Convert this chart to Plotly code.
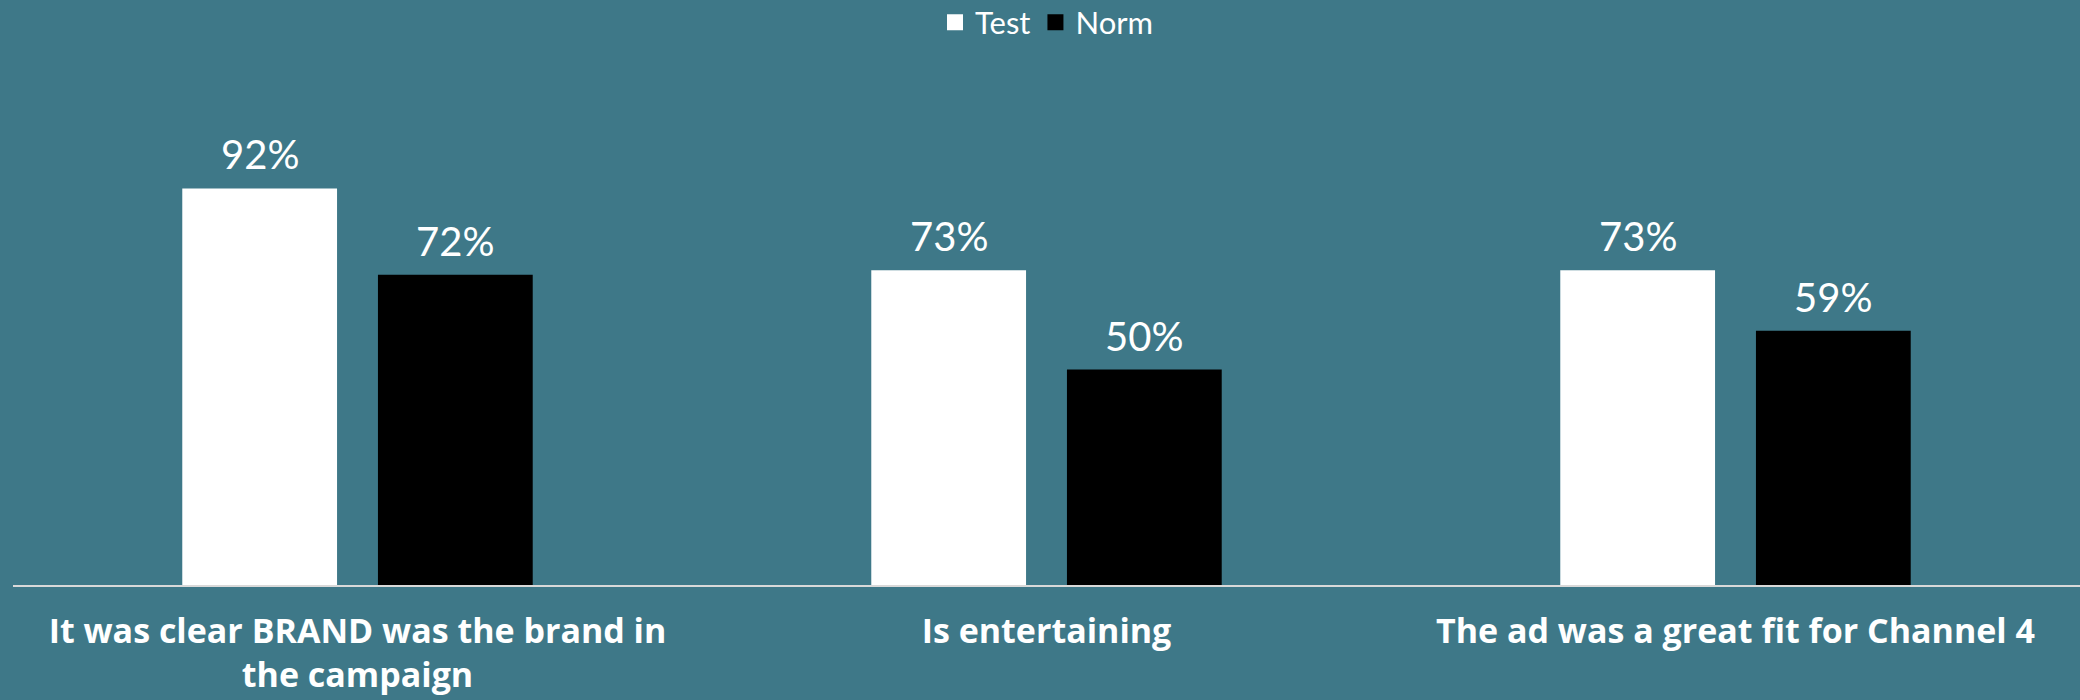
import plotly.graph_objects as go

categories = ["It was clear BRAND was the brand in<br>the campaign", "Is entertaining", "The ad was a great fit for Channel 4"]
test_vals = [92, 73, 73]
norm_vals = [72, 50, 59]
series_names = ["Test", "Norm"]
series_colors = ["#FFFFFF", "#000000"]

BG = "#3E7888"
FONT_R = "Lato, 'Open Sans', sans-serif"

W, H = 2080, 700
ML, MR, MT, MB = 13, 0, 154, 115
BARGAP, BARGROUPGAP = 0.432, 0.209

fig = go.Figure()
for name, vals, col in zip(series_names, [test_vals, norm_vals], series_colors):
    fig.add_trace(go.Bar(
        x=categories, y=vals, name=name, showlegend=False,
        marker=dict(color=col, line=dict(width=0)),
    ))
# legend entries with square markers
for name, col in zip(series_names, series_colors):
    fig.add_trace(go.Scatter(
        x=[None], y=[None], mode="markers", name=name,
        marker=dict(symbol="square", size=16, color=col, line=dict(width=0)),
    ))

# value labels above bars, positioned via the category axis and data values
plot_w = W - ML - MR
slot = plot_w / len(categories) * (1 - BARGAP) / 2
for i, cat in enumerate(categories):
    for j, vals in enumerate([test_vals, norm_vals]):
        fig.add_annotation(
            x=cat, y=vals[i], xref="x", yref="y",
            xshift=(j - 0.5) * slot, yshift=8,
            text=f"{vals[i]}%", showarrow=False, yanchor="bottom", xanchor="center",
            font=dict(color="white", size=40, family=FONT_R),
        )

fig.update_layout(
    width=W, height=H,
    paper_bgcolor=BG, plot_bgcolor=BG,
    barmode="group", bargap=BARGAP, bargroupgap=BARGROUPGAP,
    margin=dict(l=ML, r=MR, t=MT, b=MB, pad=0, autoexpand=False),
    legend=dict(orientation="h", x=0.5, xanchor="center", y=1.305, yanchor="middle",
                font=dict(color="white", size=31, family=FONT_R),
                bgcolor="rgba(0,0,0,0)", itemwidth=30, traceorder="normal"),
    xaxis=dict(showgrid=False, showline=True, linecolor="#D9D9D9", linewidth=2,
               ticks="", ticklabelstandoff=15, automargin=False,
               tickfont=dict(color="white", size=34, family="'Open Sans', sans-serif", weight="bold"),
               zeroline=False),
    yaxis=dict(range=[0, 100], visible=False, showgrid=False, zeroline=False, automargin=False),
    font=dict(family=FONT_R, color="white"),
)
fig.write_html("out.html", config={"displayModeBar": False},
               post_script="document.body.style.margin='0';document.body.style.padding='0';document.body.style.overflow='hidden';")
